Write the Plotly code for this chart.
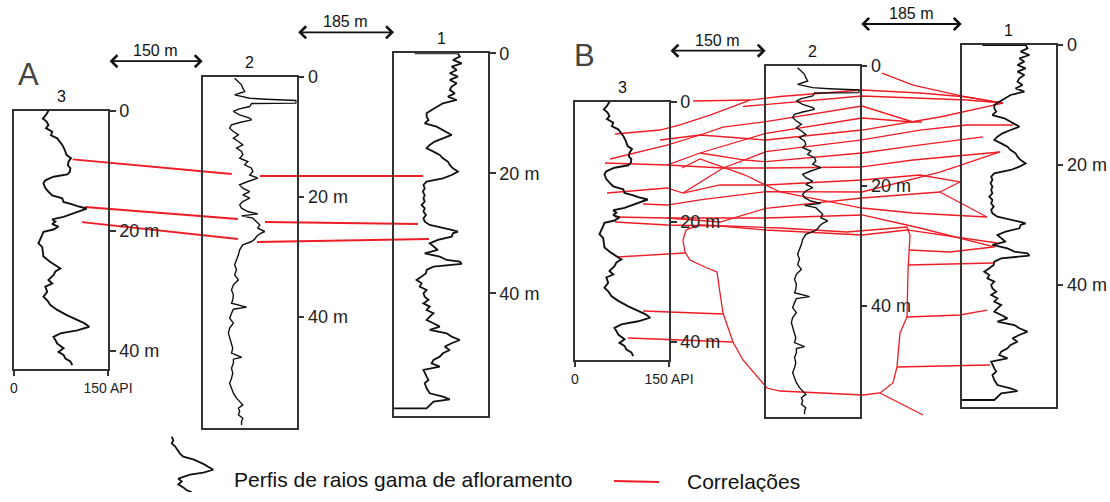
import plotly.graph_objects as go

# ---------------- data (depth in m, gamma in API) ----------------
LOG_NAMES = ["3", "2", "1"]

LOG3_READINGS = [[0, 55], [0.7, 51], [1.3, 46], [1.8, 52], [2.4, 55], [2.9, 51], [3.5, 61], [4.1, 59],
                 [4.6, 69], [5.2, 74], [5.7, 77], [6.3, 80], [6.8, 82], [7.4, 84], [7.9, 91], [8.5, 87],
                 [9.1, 86], [9.6, 90], [10.2, 89], [10.6, 85], [11.0, 63], [11.6, 50], [12.1, 47],
                 [12.9, 50], [13.5, 55], [14.1, 61], [14.6, 77], [15.2, 79], [15.6, 93], [15.9, 101],
                 [16.3, 116], [16.7, 106], [17.1, 93], [17.7, 79], [18.1, 61], [18.5, 66], [18.9, 61],
                 [19.3, 71], [19.8, 63], [20.2, 47], [20.7, 45], [21.3, 42], [22.1, 39], [22.7, 45],
                 [23.5, 46], [24.3, 47], [25.2, 58], [26.0, 69], [26.3, 74], [26.8, 66], [27.4, 63],
                 [28.2, 55], [28.8, 61], [29.3, 50], [30.2, 53], [31.0, 47], [31.6, 53], [32.4, 58],
                 [33.2, 69], [34.1, 85], [34.9, 101], [35.4, 112], [36.0, 120], [36.6, 101], [37.1, 74],
                 [37.7, 63], [38.2, 66], [38.8, 69], [39.6, 79], [40.2, 71], [40.7, 79], [41.3, 82],
                 [41.8, 90], [42.4, 93]]

LOG2_READINGS = [[0.28, 51], [0.83, 57], [1.39, 62], [1.94, 64], [2.5, 67], [3.06, 51], [3.33, 64],
                 [3.61, 75], [3.78, 101], [4.0, 149], [4.44, 149], [4.5, 78], [5.0, 75], [5.44, 57],
                 [5.83, 49], [6.39, 59], [6.94, 75], [7.22, 78], [7.67, 59], [8.06, 46], [8.61, 43],
                 [9.17, 49], [9.72, 57], [10.28, 49], [10.83, 57], [11.39, 64], [11.94, 54], [12.5, 62],
                 [13.06, 64], [13.61, 59], [14.17, 72], [14.72, 67], [15.28, 78], [15.83, 80],
                 [16.39, 75], [16.94, 88], [17.5, 72], [18.06, 59], [18.61, 64], [19.17, 75],
                 [19.72, 64], [20.28, 75], [20.83, 64], [21.39, 59], [21.94, 62], [22.5, 72],
                 [22.89, 88], [23.22, 62], [23.61, 80], [24.17, 86], [24.72, 91], [25.28, 88],
                 [25.83, 99], [26.22, 91], [26.67, 86], [27.11, 83], [27.5, 78], [28.06, 64],
                 [28.89, 59], [29.72, 57], [30.56, 54], [31.39, 51], [32.22, 54], [33.06, 51],
                 [33.89, 57], [34.72, 49], [35.56, 46], [36.39, 49], [37.22, 48], [37.78, 46],
                 [38.44, 70], [38.78, 49], [39.44, 46], [40.28, 43], [41.11, 49], [41.94, 43],
                 [42.78, 41], [43.61, 43], [44.44, 46], [45.28, 48], [46.11, 46], [46.78, 62],
                 [47.11, 49], [47.78, 49], [48.61, 46], [49.44, 48], [50.28, 46], [51.11, 43],
                 [51.94, 46], [52.78, 49], [53.61, 54], [54.17, 59], [54.72, 64], [55.28, 57],
                 [55.83, 59], [56.39, 57], [56.94, 64], [57.5, 62], [58.06, 62]]

LOG1_READINGS = [[0, 33], [0, 102], [0.56, 105], [1.11, 94], [1.67, 108], [2.22, 92], [2.78, 100],
                 [3.33, 89], [3.89, 102], [4.44, 89], [5.0, 100], [5.56, 92], [6.11, 89], [6.67, 97],
                 [7.22, 86], [7.78, 100], [8.33, 78], [8.89, 68], [9.44, 60], [10.0, 52], [10.56, 52],
                 [11.11, 55], [11.67, 49], [12.22, 68], [12.78, 78], [13.61, 92], [14.17, 78],
                 [14.72, 65], [15.28, 57], [15.83, 52], [16.39, 63], [16.94, 73], [17.5, 78],
                 [18.06, 86], [18.61, 89], [19.17, 94], [19.72, 102], [20.28, 92], [20.83, 78],
                 [21.39, 52], [21.94, 47], [22.5, 49], [23.06, 46], [23.61, 49], [24.17, 47],
                 [24.72, 49], [25.28, 44], [25.83, 49], [26.39, 47], [26.94, 51], [27.5, 47],
                 [28.06, 49], [28.61, 57], [29.0, 76], [29.44, 92], [29.72, 102], [30.0, 94],
                 [30.56, 92], [31.11, 70], [31.67, 57], [32.22, 63], [32.78, 70], [33.33, 49],
                 [33.89, 73], [34.44, 84], [34.72, 105], [35.11, 108], [35.56, 63], [36.11, 52],
                 [36.67, 51], [37.22, 44], [37.78, 36], [38.33, 44], [38.89, 41], [39.44, 52],
                 [40.0, 47], [40.56, 49], [41.11, 55], [41.67, 47], [42.22, 57], [42.78, 52],
                 [43.33, 63], [43.89, 57], [44.44, 52], [45.0, 63], [45.56, 73], [46.11, 57],
                 [46.67, 84], [47.22, 92], [47.78, 105], [48.33, 92], [48.89, 81], [49.44, 89],
                 [50.0, 78], [50.56, 73], [51.11, 63], [51.67, 60], [52.22, 73], [52.78, 47],
                 [53.33, 49], [53.89, 52], [54.44, 55], [55.0, 49], [55.83, 52], [56.67, 57],
                 [57.22, 78], [57.67, 89], [58.06, 63], [58.61, 57], [59.17, 52], [59.17, 0]]

LOG_LENGTH_M = {"3": 43.0, "2": 58.5, "1": 60.4}
DEPTH_TICKS = [0, 20, 40]
DEPTH_TICK_TEXT = ["0", "20 m", "40 m"]
API_TICKS = [0, 150]
API_TICK_TEXT = ["0", "150 API"]
SPACING_LABELS = ["150 m", "185 m"]

# correlation lines: section coordinates (x = API units from well 3 left edge, y = m below well 1 top)
CORR_A = [
    [[93.7, 17.67], [347.4, 20.12]],
    [[392.5, 20.45], [652.6, 20.45]],
    [[113.3, 25.62], [357.4, 27.62]],
    [[400.5, 28.12], [644.7, 28.45]],
    [[108.5, 28.12], [357.4, 30.95]],
    [[387.8, 31.45], [662.2, 30.95]],
]

CORR_B = [
    [[188.3, 9.33], [279.2, 9.17]],
    [[63.8, 14.83], [135.6, 14.17], [167.5, 13.33], [215.4, 11.67], [279.2, 9.17], [327.1, 8.58],
     [458, 7.5], [550.5, 8.0], [625.5, 8.67], [683, 9.67]],
    [[268.1, 10.25], [327.1, 9.72], [458, 8.5], [625.5, 9.17], [683, 9.67]],
    [[489.9, 4.67], [539.4, 6.67], [625.5, 8.67], [683, 9.67]],
    [[55.9, 19.0], [146.8, 16.67], [199.5, 15.0], [236.2, 13.67], [304.8, 12.78], [458, 10.17],
     [539.4, 12.83], [553.7, 12.83]],
    [[47.9, 19.67], [146.8, 20.0], [199.5, 18.0], [304.8, 14.72], [458, 12.17], [539.4, 12.83]],
    [[199.5, 18.0], [271.3, 19.17], [304.8, 19.45], [458, 18.0], [539.4, 16.83], [651, 15.33]],
    [[135.6, 15.83], [199.5, 15.0], [263.3, 15.5], [304.8, 15.83], [458, 14.17], [582.4, 12.0],
     [683, 9.67]],
    [[146.8, 20.0], [236.2, 20.5], [304.8, 20.5], [458, 20.33]],
    [[170.7, 20.5], [199.5, 19.0], [271.3, 21.67], [327.1, 24.5], [458, 27.17], [539.4, 28.0],
     [657.4, 28.67]],
    [[51.1, 24.67], [146.8, 23.83], [172.3, 24.67], [236.2, 20.5], [304.8, 17.78], [458, 15.83],
     [550.5, 14.17], [625.5, 13.33], [698.9, 13.33]],
    [[172.3, 24.67], [231.4, 23.33], [304.8, 23.33], [458, 22.5], [550.5, 21.67], [614.3, 22.83]],
    [[108.5, 26.5], [146.8, 26.67], [199.5, 25.83], [304.8, 24.45], [458, 24.5], [582.4, 21.17],
     [678.2, 17.83]],
    [[63.8, 28.67], [146.8, 28.83], [231.4, 29.5], [304.8, 27.22], [458, 25.5], [518.6, 25.0],
     [582.4, 24.5]],
    [[614.3, 22.83], [582.4, 24.5], [657.4, 28.67]],
    [[146.8, 28.83], [304.8, 28.83], [458, 28.33]],
    [[63.8, 29.5], [146.8, 30.0], [231.4, 30.17], [304.8, 30.83], [458, 31.67], [529.8, 30.83],
     [673.4, 33.0]],
    [[458, 20.33], [539.4, 19.17], [678.2, 17.83]],
    [[458, 28.33], [550.5, 30.5], [670.2, 33.67]],
    [[177.1, 30.83], [199.5, 30.0], [327.1, 30.5], [434, 31.17], [529.8, 30.33], [534.6, 31.67],
     [531.4, 37.5], [529.8, 45.33], [518.6, 48.0], [513.8, 53.67], [507.4, 56.33], [486.7, 58.0],
     [459.6, 58.33], [327.1, 57.67], [306.4, 57.17], [268.1, 52.5], [252.1, 49.5], [236.2, 44.67],
     [231.4, 41.33], [226.6, 37.83], [210.6, 37.17], [183.5, 35.83], [175.5, 34.5], [172.3, 32.5],
     [177.1, 30.83]],
    [[486.7, 58.0], [555.3, 61.67]],
    [[175.5, 34.67], [67.0, 35.33]],
    [[236.2, 44.83], [108.5, 44.33]],
    [[252.1, 49.5], [84.6, 48.83]],
    [[533.0, 34.17], [598.4, 34.5], [667.0, 33.67]],
    [[531.4, 36.67], [667.0, 36.33]],
    [[529.8, 45.33], [614.3, 45.0], [657.4, 44.17]],
    [[513.8, 53.67], [662.2, 53.33]],
]

LEGEND_ICON = [[0.5, 5.9], [1.22, 8.5], [1.78, 5.9], [2.33, 11.2], [3.72, 19.1], [4.28, 24.4],
               [4.83, 40.4], [5.67, 56.3], [6.78, 72.3], [7.33, 56.3], [7.72, 35.1], [8.17, 21.9],
               [8.45, 16.4], [9.0, 21.9], [9.55, 16.4], [10.12, 24.4], [10.67, 29.8], [11.0, 37.8]]
LEGEND_TEXT = ["Perfis de raios gama de afloramento", "Correlações"]

# ---------------- layout constants ----------------
W = 1110
H = 492                   # page adds ~10 px below the figure; keep total at the 502 px viewport
K = 94 / 150.0            # px per API unit
PXM = 6.0                 # px per metre
API_MAX = 150
FONT = "Liberation Sans, Arial, sans-serif"
BLACK = "#111111"
BOX = "#333333"
RED = "#ee1c24"


def px(x):
    return x / W


def py(y):
    return 1 - y / H


PANELS = [
    dict(name="A", origin=(14, 53.3), offsets={"3": (0, 9.57), "2": (301.1, 3.87), "1": (606.4, 0)},
         letter=(28, 74), corr=CORR_A, cw=1.8),
    dict(name="B", origin=(575, 45), offsets={"3": (0, 9.45), "2": (304.3, 3.5), "1": (617.1, 0)},
         letter=(585, 55), corr=CORR_B, cw=1.3),
]
READINGS = {"3": LOG3_READINGS, "2": LOG2_READINGS, "1": LOG1_READINGS}
CURVE_W = {"3": 1.9, "2": 1.4, "1": 1.8}

fig = go.Figure()
layout = dict(width=W, height=H, margin=dict(l=0, r=0, t=0, b=0, autoexpand=False), showlegend=False,
              paper_bgcolor="white", plot_bgcolor="rgba(0,0,0,0)", font=dict(family=FONT, color=BLACK))
annotations = []
counter = [0]


def new_axes(xdict, ydict):
    counter[0] += 1
    n = counter[0]
    s = "" if n == 1 else str(n)
    xdict.setdefault("anchor", "y" + s)
    ydict.setdefault("anchor", "x" + s)
    layout["xaxis" + s] = xdict
    layout["yaxis" + s] = ydict
    return "x" + s, "y" + s


hidden = dict(visible=False, showgrid=False, zeroline=False, fixedrange=True)

# overlay (section) axes for each panel
overlay = {}
for p in PANELS:
    ox, oy = p["origin"]
    xa, ya = new_axes(dict(hidden, domain=[0, 1], range=[-ox / K, (W - ox) / K]),
                      dict(hidden, domain=[0, 1], range=[(H - oy) / PXM, -oy / PXM]))
    overlay[p["name"]] = (xa, ya)
    for line in p["corr"]:
        fig.add_trace(go.Scatter(x=[pt[0] for pt in line], y=[pt[1] for pt in line], mode="lines",
                                 line=dict(color=RED, width=p["cw"]), xaxis=xa, yaxis=ya,
                                 hoverinfo="skip"))

# well logs
for p in PANELS:
    ox, oy = p["origin"]
    for name in LOG_NAMES:
        xo, yo = p["offsets"][name]
        left = ox + xo * K
        top = oy + yo * PXM
        right = left + API_MAX * K
        bottom = top + LOG_LENGTH_M[name] * PXM
        is3 = name == "3"
        xd = dict(domain=[px(left), px(right)], range=[0, API_MAX], showgrid=False, zeroline=False,
                  showline=True, mirror=True, linecolor=BOX, linewidth=1.5, fixedrange=True,
                  ticks="outside" if is3 else "", ticklen=6, tickcolor=BOX, tickwidth=1.5,
                  tickvals=API_TICKS if is3 else [], ticktext=API_TICK_TEXT if is3 else [],
                  showticklabels=is3, tickfont=dict(size=14, family=FONT, color="#222"))
        yd = dict(domain=[py(bottom), py(top)], range=[LOG_LENGTH_M[name], 0], showgrid=False,
                  zeroline=False, showline=True, mirror=True, linecolor=BOX, linewidth=1.5,
                  side="right", ticks="outside", ticklen=6, tickcolor=BOX, tickwidth=1.5,
                  tickvals=DEPTH_TICKS, ticktext=DEPTH_TICK_TEXT, fixedrange=True,
                  tickfont=dict(size=18, family=FONT, color="#222"))
        xa, ya = new_axes(xd, yd)
        r = READINGS[name]
        fig.add_trace(go.Scatter(x=[v[1] for v in r], y=[v[0] for v in r], mode="lines",
                                 line=dict(color=BLACK, width=CURVE_W[name]), xaxis=xa, yaxis=ya,
                                 hoverinfo="skip"))
        annotations.append(dict(text=name, xref=xa + " domain", yref=ya + " domain", x=0.5, y=1,
                                xanchor="center", yanchor="bottom", yshift=4, showarrow=False,
                                font=dict(size=16, family=FONT, color=BLACK)))
    # spacing arrows
    xa, ya = overlay[p["name"]]
    o2, o1 = p["offsets"]["2"], p["offsets"]["1"]
    spans = [(API_MAX, o2[0], o2[1] - 2.55), (o2[0] + API_MAX, o1[0], o1[1] - 3.5)]
    for (xs, xe, yv), lab in zip(spans, SPACING_LABELS):
        annotations.append(dict(x=xe, y=yv, ax=xs, ay=yv, xref=xa, yref=ya, axref=xa, ayref=ya,
                                text="", showarrow=True, arrowhead=4, startarrowhead=4,
                                arrowside="end+start", arrowsize=1.3, startarrowsize=1.3,
                                arrowwidth=1.8, arrowcolor=BLACK, standoff=0, startstandoff=0))
        annotations.append(dict(x=(xs + xe) / 2, y=yv, xref=xa, yref=ya, text=lab, showarrow=False,
                                xanchor="center", yanchor="bottom", yshift=0,
                                font=dict(size=16, family=FONT, color=BLACK)))
    lx, ly = p["letter"]
    annotations.append(dict(text=p["name"], xref="paper", yref="paper", x=px(lx), y=py(ly),
                            xanchor="center", yanchor="middle", showarrow=False,
                            font=dict(size=31, family=FONT, color="#444")))

# legend: gamma icon
xa, ya = new_axes(dict(hidden, domain=[px(168), px(216)], range=[0, 48 / K]),
                  dict(hidden, domain=[py(492), py(434)], range=[11, 0]))
fig.add_trace(go.Scatter(x=[v[1] for v in LEGEND_ICON], y=[v[0] for v in LEGEND_ICON], mode="lines",
                         line=dict(color=BLACK, width=1.8), xaxis=xa, yaxis=ya, hoverinfo="skip"))
# legend: red line
xa, ya = new_axes(dict(hidden, domain=[px(614), px(659)], range=[0, 1]),
                  dict(hidden, domain=[py(490), py(472)], range=[0, 1]))
fig.add_trace(go.Scatter(x=[0, 1], y=[0.5, 0.45], mode="lines", line=dict(color=RED, width=2),
                         xaxis=xa, yaxis=ya, hoverinfo="skip"))
annotations.append(dict(text=LEGEND_TEXT[0], xref="paper", yref="paper", x=px(232), y=py(479),
                        xanchor="left", yanchor="middle", showarrow=False,
                        font=dict(size=21, family=FONT, color=BLACK)))
annotations.append(dict(text=LEGEND_TEXT[1], xref="paper", yref="paper", x=px(685), y=py(481),
                        xanchor="left", yanchor="middle", showarrow=False,
                        font=dict(size=21, family=FONT, color=BLACK)))

layout["annotations"] = annotations
fig.update_layout(layout)
fig.write_html("out.html")
